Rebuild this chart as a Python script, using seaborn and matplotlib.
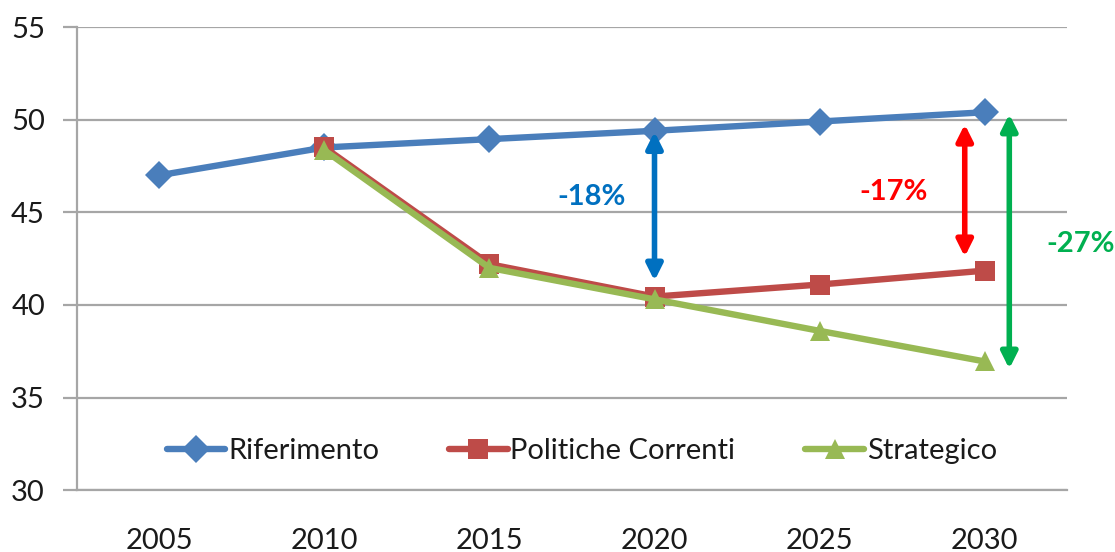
import matplotlib
matplotlib.use("Agg")
import matplotlib.pyplot as plt
import pandas as pd
import seaborn as sns

# Chart data
years = ["2005", "2010", "2015", "2020", "2025", "2030"]
riferimento = [47.0, 48.5, 48.95, 49.4, 49.9, 50.4]
politiche_correnti = [None, 48.5, 42.2, 40.45, 41.1, 41.85]
strategico = [None, 48.35, 42.0, 40.3, 38.6, 36.95]
series_names = ["Riferimento", "Politiche Correnti", "Strategico"]

# Gap arrows: x in category units, top/bottom values, label and its position
gap_labels = ["-18%", "-17%", "-27%"]
gap_x = [3.0, 4.88, 5.15]
gap_top = [49.35, 49.75, 50.3]
gap_bottom = [41.3, 42.6, 36.55]
gap_text_x = [2.62, 4.45, 5.58]
gap_text_y = [45.8, 46.1, 43.3]

colors = ["#4A7EBB", "#BE4B48", "#98B954"]
arrow_colors = ["#0070C0", "#FF0000", "#00B050"]
markers = ["D", "s", "^"]

rows = []
for name, values in zip(series_names, [riferimento, politiche_correnti, strategico]):
    for year, v in zip(years, values):
        if v is not None:
            rows.append({"year": year, "value": v, "series": name})
df = pd.DataFrame(rows)
df["pos"] = df["year"].map({y: i for i, y in enumerate(years)})

sns.set_theme(style="white")
plt.rcParams["font.family"] = ["Lato", "DejaVu Sans"]

fig = plt.figure(figsize=(11.15, 5.52), dpi=100)
ax = fig.add_axes([0.069, 0.112, 0.888, 0.839])

ax.yaxis.grid(True, color="#A6A6A6", linewidth=1.6)
ax.set_axisbelow(True)

sns.lineplot(data=df, x="pos", y="value", hue="series", style="series",
             hue_order=series_names, style_order=series_names,
             palette=colors, markers=dict(zip(series_names, markers)),
             dashes=False, linewidth=4.6, markersize=14, markeredgewidth=0,
             ax=ax)

ax.set_xlim(-0.5, len(years) - 0.5)
ax.set_ylim(30, 55)
ax.set_yticks(range(30, 56, 5))
ax.set_xticks(range(len(years)))
ax.set_xticklabels(years)
ax.set_xticks([i + 0.5 for i in range(len(years) - 1)], minor=True)
ax.tick_params(axis="x", which="major", length=0, pad=27, labelsize=21, colors="#1a1a1a")
ax.tick_params(axis="x", which="minor", length=12, width=1.6, color="#A6A6A6", direction="out")
ax.tick_params(axis="y", length=10, width=1.6, color="#A6A6A6", direction="out", pad=13,
               labelsize=21, labelcolor="#1a1a1a", left=True)
ax.set_xlabel("")
ax.set_ylabel("")

for side in ["top", "right"]:
    ax.spines[side].set_visible(False)
ax.spines["left"].set_color("#A6A6A6")
ax.spines["left"].set_linewidth(1.6)
ax.spines["bottom"].set_color("#A6A6A6")
ax.spines["bottom"].set_linewidth(1.6)

for x, top, bottom, label, tx, ty, c in zip(gap_x, gap_top, gap_bottom, gap_labels,
                                             gap_text_x, gap_text_y, arrow_colors):
    ax.annotate("", xy=(x, bottom), xytext=(x, top),
                arrowprops=dict(arrowstyle="<|-|>", color=c, lw=4,
                                mutation_scale=24, shrinkA=0, shrinkB=0))
    ax.text(tx, ty, label, color=c, fontsize=21, fontweight="bold",
            ha="center", va="center")

leg = ax.legend(loc="center", bbox_to_anchor=(0.51, 0.085), ncol=3, frameon=False,
                fontsize=21, handlelength=2.0, handletextpad=0.1, columnspacing=2.4)
for t in leg.get_texts():
    t.set_color("#1a1a1a")

fig.savefig("out.png", dpi=100)
